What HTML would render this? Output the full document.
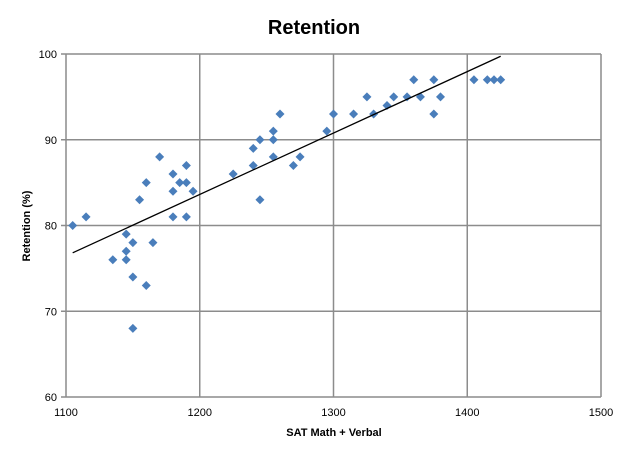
<!DOCTYPE html>
<html><head><meta charset="utf-8"><style>
body{margin:0;background:#fff;}
svg{display:block;font-family:"Liberation Sans",sans-serif;}
</style></head><body>
<svg id="chart" width="628" height="454">
<text x="314" y="34" text-anchor="middle" font-size="20" font-weight="bold">Retention</text>
<g id="grid"></g><g id="ticks"></g><g id="marks"></g>
<text x="334" y="436" text-anchor="middle" font-size="11" font-weight="bold">SAT Math + Verbal</text>
<text transform="translate(30,226) rotate(-90)" text-anchor="middle" font-size="11" font-weight="bold">Retention (%)</text>
</svg>
<script>
const satScores=[1105,1115,1135,1145,1145,1145,1150,1150,1150,1155,1160,1160,1165,1170,1180,1180,1180,1185,1190,1190,1190,1195,1225,1240,1240,1245,1245,1255,1255,1255,1260,1270,1275,1295,1300,1315,1325,1330,1340,1345,1355,1360,1365,1375,1375,1380,1405,1415,1420,1425];
const retention=[80,81,76,79,77,76,78,74,68,83,85,73,78,88,86,84,81,85,87,85,81,84,86,89,87,90,83,91,90,88,93,87,88,91,93,93,95,93,94,95,95,97,95,97,93,95,97,97,97,97];
const xTicks=[1100,1200,1300,1400,1500];
const yTicks=[60,70,80,90,100];
const NS="http://www.w3.org/2000/svg";
const X=v=>66+(v-1100)*535/400;
const Y=v=>397-(v-60)*343/40;
function mk(tag,attrs,parent){const e=document.createElementNS(NS,tag);for(const k in attrs)e.setAttribute(k,attrs[k]);document.getElementById(parent).appendChild(e);return e;}
xTicks.forEach(t=>{
 const l=mk('line',{x1:X(t),x2:X(t),y1:Y(100),y2:Y(60),stroke:'#8c8c8c','stroke-width':1.5},'grid');
 
 
 const tx=mk('text',{x:X(t),y:416,'text-anchor':'middle','font-size':11},'ticks');
 tx.textContent=t;
 
 
});
yTicks.forEach(t=>{
 const l=mk('line',{x1:X(1100)-5,x2:X(1500),y1:Y(t),y2:Y(t),stroke:'#8c8c8c','stroke-width':1.5},'grid');
 
 
 const tx=mk('text',{x:57,y:Y(t)+4,'text-anchor':'end','font-size':11},'ticks');
 tx.textContent=t;
 
 
});
satScores.forEach((s,i)=>{
 const cx=X(s),cy=Y(retention[i]),r=4.5;
 const p=mk('polygon',{points:`${cx},${cy-r} ${cx+r},${cy} ${cx},${cy+r} ${cx-r},${cy}`,fill:'#4a7ebb'},'marks');
 
 
});
// linear regression trendline
const n=satScores.length;
const mx=satScores.reduce((a,b)=>a+b)/n,my=retention.reduce((a,b)=>a+b)/n;
let sxy=0,sxx=0;satScores.forEach((s,i)=>{sxy+=(s-mx)*(retention[i]-my);sxx+=(s-mx)**2;});
const slope=sxy/sxx,icpt=my-slope*mx;
const x0=Math.min(...satScores),x1=Math.max(...satScores);
const tl=mk('line',{x1:X(x0),y1:Y(icpt+slope*x0),x2:X(x1),y2:Y(icpt+slope*x1),stroke:'#000','stroke-width':1.3},'marks');


</script>
</body></html>
